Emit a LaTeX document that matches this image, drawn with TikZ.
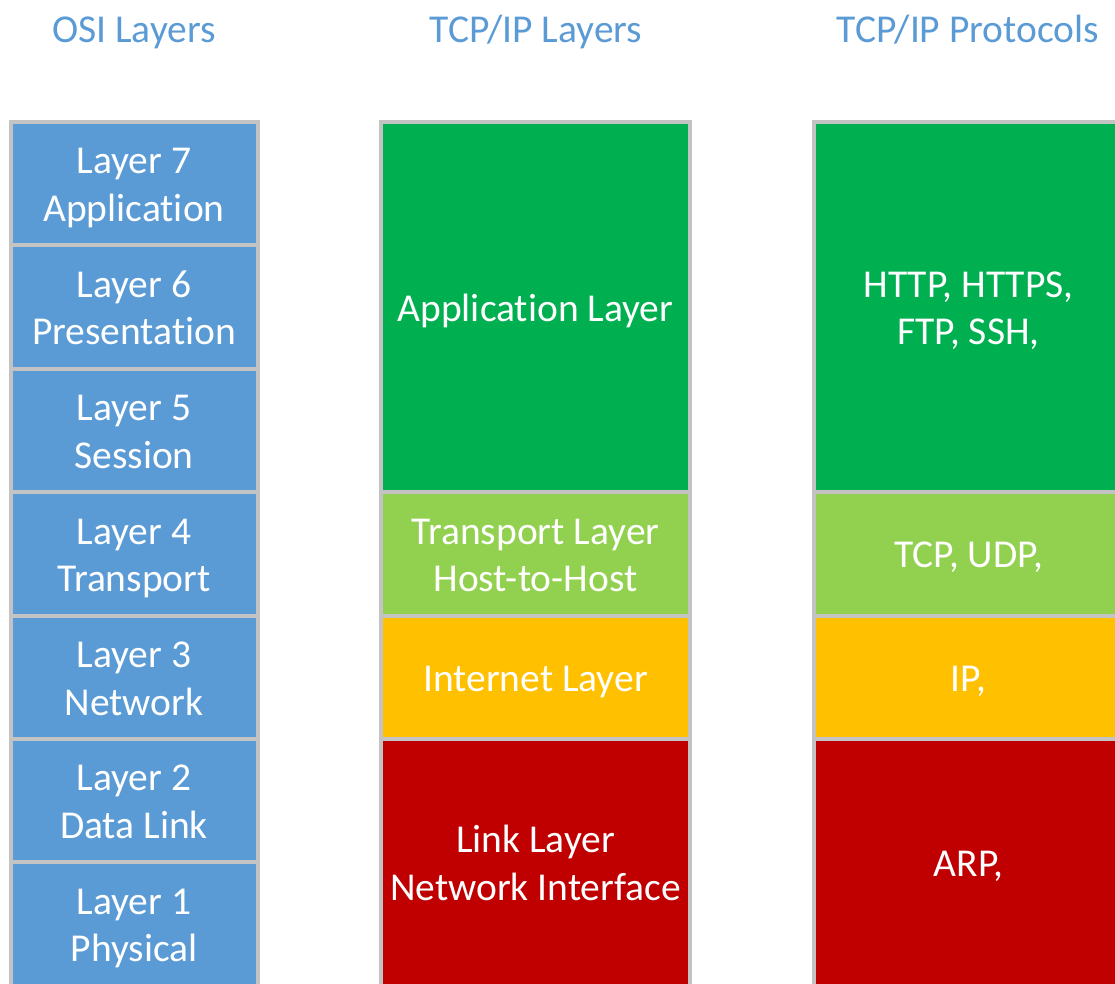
\documentclass[tikz,border=0pt]{standalone}
\usepackage{fontspec}
\setmainfont{Carlito}[RawFeature=-liga]
\usepackage{xcolor}
\usepackage{tikz}
\usetikzlibrary{positioning}
\definecolor{osiblue}{HTML}{5B9BD5}
\definecolor{appgreen}{HTML}{00B050}
\definecolor{tpgreen}{HTML}{92D050}
\definecolor{netyellow}{HTML}{FFC000}
\definecolor{linkred}{HTML}{C00000}
\definecolor{edgegray}{HTML}{C3C3C3}
\newcommand{\boxtext}[1]{\raisebox{-4.5pt}[\height][\depth]{\begin{tabular}{@{}c@{}}#1\end{tabular}}}

\begin{document}
\begin{tikzpicture}[x=1pt, y=1pt,
    every node/.style={font=\fontsize{39.5}{47.5}\selectfont},
    title/.style={text=osiblue, anchor=base},
    layerbox/.style={draw=edgegray, line width=4pt, rectangle, inner sep=0pt,
        text=white, align=center},
    osi/.style={layerbox, fill=osiblue, minimum width=247pt, minimum height=123.4pt},
    tcp/.style={layerbox, minimum width=309pt},
    proto/.style={layerbox, minimum width=310pt}
]
    \useasboundingbox (0, 0) rectangle (1115, -983);
    \clip (0, 0) rectangle (1115, -983);

    % titles
    \node[title] (osit) at (134, -42) {OSI Layers};
    \node[title] (tcpt) at (536, -42) {TCP/IP Layers};
    \node[title] (prot) at (968, -42) {TCP/IP Protocols};

    % OSI layers
    \node[osi] (l7) at (134, -183.7) {\boxtext{Layer 7\\Application}};
    \node[osi] (l6) at (134, -307.1) {\boxtext{Layer 6\\Presentation}};
    \node[osi] (l5) at (134, -430.5) {\boxtext{Layer 5\\Session}};
    \node[osi] (l4) at (134, -553.9) {\boxtext{Layer 4\\Transport}};
    \node[osi] (l3) at (134, -677.3) {\boxtext{Layer 3\\Network}};
    \node[osi] (l2) at (134, -800.7) {\boxtext{Layer 2\\Data Link}};
    \node[osi] (l1) at (134, -924.1) {\boxtext{Layer 1\\Physical}};

    % TCP/IP layers
    \node[tcp, fill=appgreen, minimum height=370.2pt] (app) at (535.5, -307.1) {\boxtext{Application Layer}};
    \node[tcp, fill=tpgreen, minimum height=123.4pt] (trans) at (535.5, -553.9) {\boxtext{Transport Layer\\Host-to-Host}};
    \node[tcp, fill=netyellow, minimum height=123.4pt] (inet) at (535.5, -677.3) {\boxtext{Internet Layer}};
    \node[tcp, fill=linkred, minimum height=246.8pt] (link) at (535.5, -862.4) {\boxtext{Link Layer\\Network Interface}};

    % TCP/IP protocols
    \node[proto, fill=appgreen, minimum height=370.2pt] (papp) at (968.5, -307.1) {\boxtext{HTTP, HTTPS,\\FTP, SSH,}};
    \node[proto, fill=tpgreen, minimum height=123.4pt] (ptrans) at (968.5, -553.9) {\boxtext{TCP, UDP,}};
    \node[proto, fill=netyellow, minimum height=123.4pt] (pinet) at (968.5, -677.3) {\boxtext{IP,}};
    \node[proto, fill=linkred, minimum height=246.8pt] (plink) at (968.5, -862.4) {\boxtext{ARP,}};
\end{tikzpicture}
\end{document}
